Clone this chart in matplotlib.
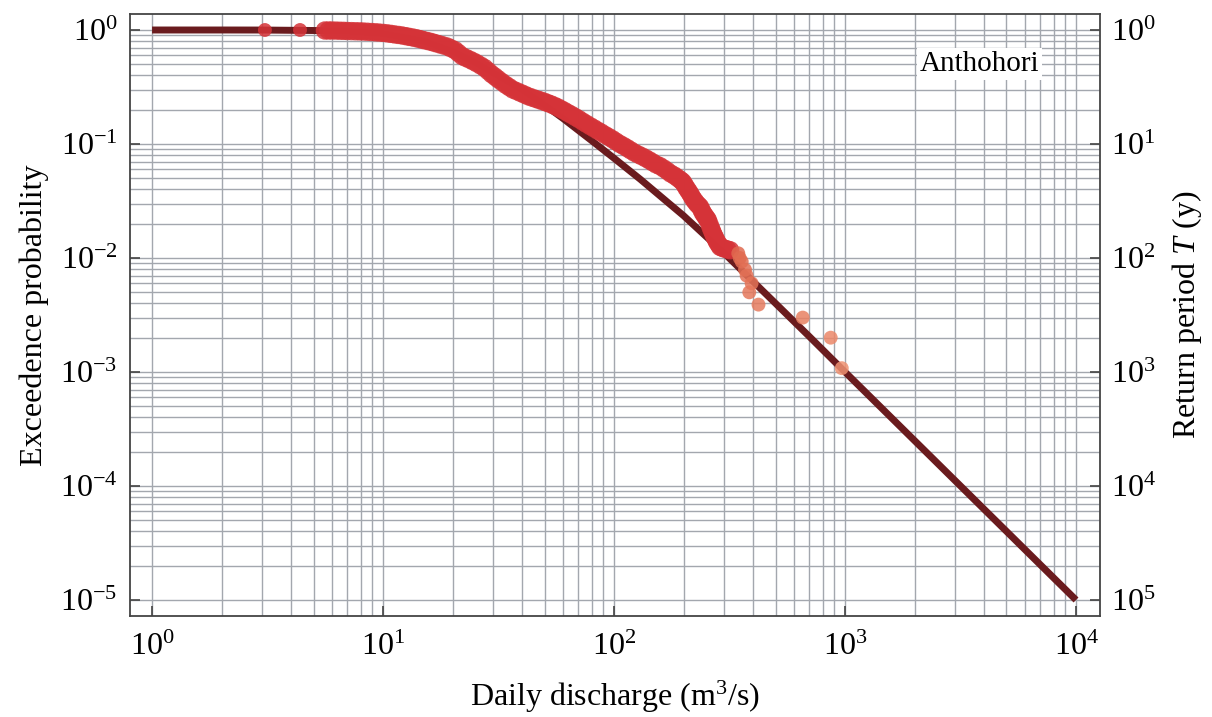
import numpy as np
import matplotlib
matplotlib.use("Agg")
import matplotlib.pyplot as plt
from matplotlib.ticker import FixedLocator, NullFormatter
from matplotlib.colors import LinearSegmentedColormap, Normalize

plt.rcParams['font.family'] = ['Liberation Serif', 'DejaVu Serif']
plt.rcParams['mathtext.fontset'] = 'custom'
plt.rcParams['mathtext.rm'] = 'Liberation Serif'
plt.rcParams['mathtext.it'] = 'Liberation Serif:italic'

# Fitted distribution (dark line)
fit_q = [1, 2, 3, 5, 7, 10, 15, 20, 25, 30, 40, 50, 60, 80, 100, 130, 170, 200,
         300, 500, 700, 1000, 2000, 5000, 10000]
fit_p = [1.0, 1.0, 0.999, 0.99, 0.975, 0.93, 0.80, 0.65, 0.52, 0.42, 0.30, 0.22,
         0.168, 0.107, 0.075, 0.049, 0.031, 0.0235, 0.0110, 0.0040, 0.00205,
         0.00100, 0.00025, 4.0e-5, 1.0e-5]

# Empirical exceedance (points)
emp_q = [3.08, 4.37, 5.6, 5.8, 6.0, 6.25, 6.5, 6.75, 7.0, 7.3, 7.6, 7.9, 8.2, 8.55,
         8.9, 9.25, 9.6, 10.0, 10.4, 10.8, 11.2, 11.65, 12.1, 12.55, 13.0, 13.5,
         14.0, 14.5, 15.0, 15.6, 16.2, 16.8, 17.5, 18.2, 19.0, 19.7, 20.5, 21.2,
         22.0, 22.8, 23.7, 24.6, 25.5, 26.5, 27.5, 28.5, 29.5, 30.5, 31.5, 32.7,
         34.0, 35.2, 36.5, 38.0, 39.5, 41.0, 42.5, 44.2, 46, 47.7, 49.5, 51.2, 53,
         55, 57, 59, 61, 63.2, 65.5, 68, 70.5, 73.2, 76, 79, 82, 85, 88, 91.5, 95,
         98.5, 102, 106, 110, 114, 118, 122.5, 127, 132, 137, 142, 147, 152.5, 158,
         164, 170, 176, 182, 187, 192, 196, 199, 202.5, 206, 209.5, 213, 216.5,
         220, 224, 228, 232, 236, 239, 242, 245.5, 249, 252, 255, 258.5, 262, 265,
         268, 271, 274, 277, 280, 284, 288, 294, 300, 309, 318,
         345, 350, 357, 369, 375, 394, 385, 422, 656, 867, 968]
emp_p = [1.0, 1.0, 0.99, 0.99, 0.99, 0.988, 0.985, 0.983, 0.98, 0.978, 0.975, 0.973,
         0.97, 0.965, 0.96, 0.955, 0.95, 0.943, 0.935, 0.925, 0.915, 0.905, 0.895,
         0.883, 0.87, 0.858, 0.845, 0.83, 0.815, 0.80, 0.785, 0.768, 0.75, 0.733,
         0.715, 0.69, 0.665, 0.628, 0.59, 0.57, 0.55, 0.53, 0.51, 0.487, 0.465,
         0.437, 0.41, 0.39, 0.37, 0.35, 0.33, 0.315, 0.30, 0.29, 0.28, 0.271,
         0.262, 0.255, 0.248, 0.242, 0.236, 0.23, 0.224, 0.217, 0.21, 0.202,
         0.195, 0.187, 0.18, 0.172, 0.165, 0.157, 0.15, 0.143, 0.137, 0.131,
         0.126, 0.12, 0.115, 0.11, 0.105, 0.1, 0.096, 0.092, 0.088, 0.084, 0.081,
         0.078, 0.075, 0.072, 0.069, 0.066, 0.064, 0.061, 0.058, 0.055, 0.053,
         0.051, 0.049, 0.0475, 0.046, 0.0435, 0.041, 0.039, 0.037, 0.035, 0.033,
         0.0315, 0.030, 0.029, 0.028, 0.0265, 0.025, 0.024, 0.023, 0.0222, 0.0215,
         0.020, 0.0185, 0.0175, 0.0165, 0.0157, 0.015, 0.0143, 0.0137, 0.0131,
         0.0125, 0.0123, 0.0121, 0.0119, 0.0117,
         0.0110, 0.0100, 0.0093, 0.0079, 0.0070, 0.0060, 0.0050, 0.0039, 0.0030,
         0.0020, 0.00108]

x_ticks = [1, 10, 100, 1000, 10000]
x_labels = ['$10^{0}$', '$10^{1}$', '$10^{2}$', '$10^{3}$', '$10^{4}$']
y_ticks = [1, 1e-1, 1e-2, 1e-3, 1e-4, 1e-5]
y_labels = ['$10^{0}$', '$10^{-1}$', '$10^{-2}$', '$10^{-3}$', '$10^{-4}$', '$10^{-5}$']
t_labels = ['$10^{0}$', '$10^{1}$', '$10^{2}$', '$10^{3}$', '$10^{4}$', '$10^{5}$']

fig = plt.figure(figsize=(12.12, 7.17), dpi=100)
ax = fig.add_axes([0.1073, 0.1409, 0.8003, 0.8396])
ax.set_xscale('log')
ax.set_yscale('log')
ax.set_xlim(0.803, 12700)
ax.set_ylim(7.24e-6, 1.382)

grid_c = '#a3a7ae'
ax.xaxis.set_minor_locator(FixedLocator([m * 10.0**e for e in range(0, 4) for m in range(2, 10)]))
ax.yaxis.set_minor_locator(FixedLocator([m * 10.0**e for e in range(-5, 0) for m in range(2, 10)]))
ax.xaxis.set_minor_formatter(NullFormatter())
ax.yaxis.set_minor_formatter(NullFormatter())
ax.grid(True, which='both', color=grid_c, lw=1.0)
ax.set_axisbelow(True)

ax.plot(fit_q, fit_p, color='#6a1b1e', lw=5, solid_capstyle='butt', zorder=3)

red = np.array([0.835, 0.20, 0.22])
cmap = LinearSegmentedColormap.from_list('tail', ['#ef9373', '#e0694f'])
norm = Normalize(vmin=-3.0, vmax=-1.96)
cols = []
sizes = []
for i, p in enumerate(emp_p):
    if p < 0.0115:
        cols.append(cmap(norm(np.log10(p))))
        sizes.append(100)
    else:
        cols.append((*red, 1.0))
        sizes.append(100 if i < 2 else 175)
ax.scatter(emp_q, emp_p, s=sizes, c=cols, alpha=0.85, edgecolors='none', zorder=4)

ax.set_xticks(x_ticks)
ax.set_xticklabels(x_labels)
ax.set_yticks(y_ticks)
ax.set_yticklabels(y_labels)
ax.tick_params(which='major', direction='in', length=7, width=1.2, color='#444444',
               labelsize=23, pad=12)
ax.tick_params(axis='y', which='major', pad=9)
ax.tick_params(which='minor', length=0)
for s in ax.spines.values():
    s.set_color('#444444')
    s.set_linewidth(1.3)

ax.set_xlabel('Daily discharge (m$^{3}$/s)', fontsize=23, labelpad=12)
ax.set_ylabel('Exceedence probability', fontsize=23, labelpad=8)

ax2 = ax.twinx()
ax2.set_yscale('log')
ax2.set_ylim(ax.get_ylim())
ax2.set_yticks(y_ticks)
ax2.set_yticklabels(t_labels)
ax2.yaxis.set_minor_locator(FixedLocator([]))
ax2.tick_params(which='major', direction='in', length=7, width=1.2, color='#444444',
                labelsize=23, pad=8)
ax2.set_ylabel('Return period $T$ (y)', fontsize=23, labelpad=10)
for s in ax2.spines.values():
    s.set_visible(False)

ax.text(0.876, 0.917, 'Anthohori', transform=ax.transAxes, fontsize=21,
        ha='center', va='center', zorder=6,
        bbox=dict(facecolor='white', edgecolor='none', pad=2))

fig.savefig('out.png', dpi=100)
